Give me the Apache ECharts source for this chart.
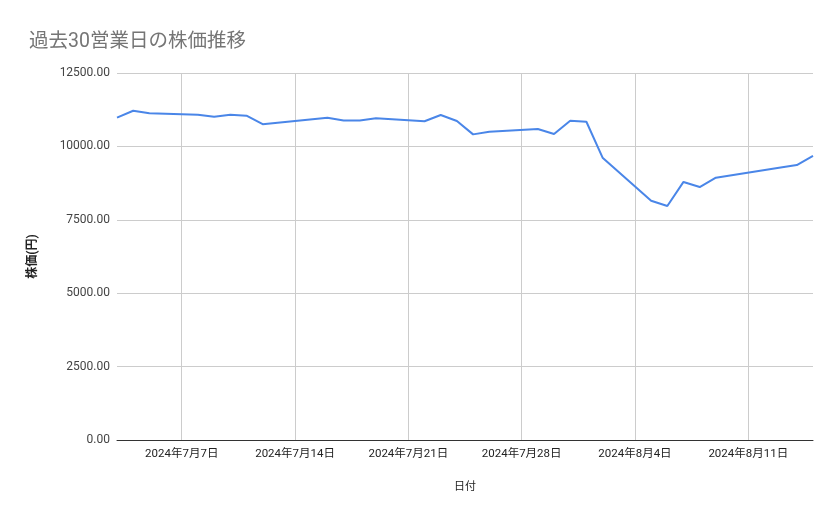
<!DOCTYPE html>
<html lang="ja">
<head>
<meta charset="UTF-8">
<title>過去30営業日の株価推移</title>
<script src="https://cdn.jsdelivr.net/npm/echarts@6/dist/echarts.min.js"></script>
<style>
  html, body { margin: 0; padding: 0; background: #fff; }
  #main { width: 839px; height: 519px; }
</style>
</head>
<body>
<div id="main"></div>
<script>
// 営業日と終値
var dates = [
    '2024-07-03', '2024-07-04', '2024-07-05',
    '2024-07-08', '2024-07-09', '2024-07-10', '2024-07-11', '2024-07-12',
    '2024-07-16', '2024-07-17', '2024-07-18', '2024-07-19',
    '2024-07-22', '2024-07-23', '2024-07-24', '2024-07-25', '2024-07-26',
    '2024-07-29', '2024-07-30', '2024-07-31', '2024-08-01', '2024-08-02',
    '2024-08-05', '2024-08-06', '2024-08-07', '2024-08-08', '2024-08-09',
    '2024-08-13', '2024-08-14', '2024-08-15'
];
var prices = [
    10980, 11215, 11130,
    11080, 11010, 11080, 11045, 10755,
    10975, 10880, 10880, 10955,
    10855, 11070, 10865, 10410, 10500,
    10595, 10420, 10875, 10840, 9615,
    8150, 7970, 8790, 8615, 8935,
    9280, 9365, 9675
];
// 目盛りを付ける日曜日
var weekTicks = ['2024-07-07', '2024-07-14', '2024-07-21', '2024-07-28', '2024-08-04', '2024-08-11'];
var yTicks = [0, 2500, 12500];   // min, interval, max

var DAY = 86400000;
var origin = Date.UTC(2024, 6, 7);

function toDay(s) {
    var p = s.split('-');
    return Math.round((Date.UTC(+p[0], +p[1] - 1, +p[2]) - origin) / DAY);
}
function dayLabel(v) {
    var d = new Date(origin + v * DAY);
    return d.getUTCFullYear() + '年' + (d.getUTCMonth() + 1) + '月' + d.getUTCDate() + '日';
}

var seriesData = [];
for (var i = 0; i < dates.length; i++) {
    seriesData.push([toDay(dates[i]), prices[i]]);
}
var tickDays = weekTicks.map(toDay);

var font = "Roboto, 'Noto Sans CJK JP', sans-serif";
var chart = echarts.init(document.getElementById('main'));

chart.setOption({
    animation: false,
    backgroundColor: '#fff',
    textStyle: { fontFamily: font },
    title: {
        text: '過去30営業日の株価推移',
        left: 24,
        top: 27,
        textStyle: { fontFamily: font, fontSize: 19.5, fontWeight: 'normal', color: '#757575' }
    },
    grid: { left: 117, right: 26, top: 73, bottom: 79 },
    xAxis: {
        type: 'value',
        min: toDay(dates[0]),
        max: toDay(dates[dates.length - 1]),
        name: '日付',
        nameLocation: 'middle',
        nameGap: 42,
        nameTextStyle: { fontFamily: font, fontSize: 11, color: '#222' },
        axisLine: { show: true, onZero: false, lineStyle: { color: '#333', width: 1 } },
        axisTick: { show: false, customValues: tickDays },
        axisLabel: {
            customValues: tickDays,
            margin: 8,
            fontSize: 11.5,
            color: '#222',
            formatter: function (v) { return dayLabel(v); }
        },
        splitLine: {
            show: true,
            lineStyle: { color: '#cccccc', width: 1 }
        }
    },
    yAxis: {
        type: 'value',
        min: yTicks[0],
        max: yTicks[2],
        interval: yTicks[1],
        name: '株価(円)',
        nameLocation: 'middle',
        nameGap: 78,
        nameTextStyle: { fontFamily: font, fontSize: 12, color: '#222', fontWeight: 'bold' },
        axisLine: { show: false },
        axisTick: { show: false },
        axisLabel: {
            margin: 7,
            fontSize: 12,
            color: '#444',
            formatter: function (v) { return v.toFixed(2); }
        },
        splitLine: { lineStyle: { color: '#cccccc', width: 1 } }
    },
    series: [{
        type: 'line',
        data: seriesData,
        showSymbol: false,
        symbol: 'none',
        lineStyle: { color: '#4a86e8', width: 2 },
        itemStyle: { color: '#4a86e8' }
    }]
});
</script>
</body>
</html>
